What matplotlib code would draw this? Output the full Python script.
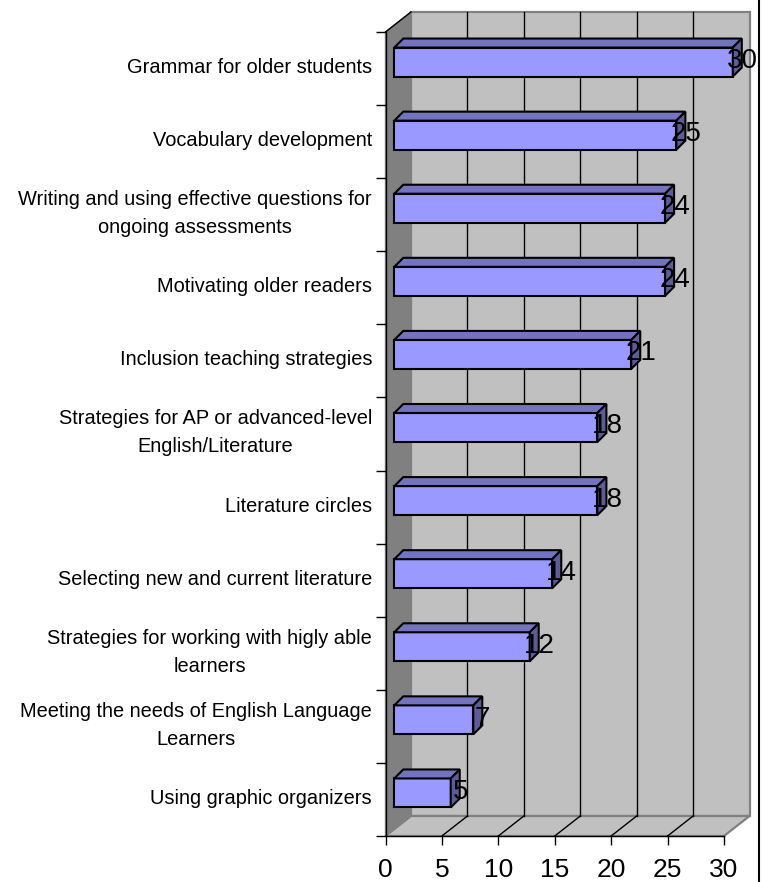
import matplotlib
matplotlib.use('Agg')
import matplotlib.pyplot as plt
from matplotlib.lines import Line2D

plt.rcParams['font.family'] = ['Liberation Sans', 'DejaVu Sans']

categories = [
    "Grammar for older students",
    "Vocabulary development",
    "Writing and using effective questions for\nongoing assessments",
    "Motivating older readers",
    "Inclusion teaching strategies",
    "Strategies for AP or advanced-level\nEnglish/Literature",
    "Literature circles",
    "Selecting new and current literature",
    "Strategies for working with higly able\nlearners",
    "Meeting the needs of English Language\nLearners",
    "Using graphic organizers",
]
values = [30, 25, 24, 24, 21, 18, 18, 14, 12, 7, 5]
xticks = [0, 5, 10, 15, 20, 25, 30]

W, H = 762, 882
PX = 338.5 / 30      # pixels per unit on x
PY = 804 / 11        # pixels per category

# depth of the 3d box and of the bars, in data units
wall_dx = 25.5 / PX
wall_dy = 20 / PY
bar_dx = 9 / PX
bar_dy = 9 / PY
bar_left = 8.8 / PX
bar_shift = -6.5 / PY
bar_h = 29 / PY

face = '#9999FF'
top = '#7373BF'
side = '#5C5C99'
wall = '#C0C0C0'
dark = '#808080'

fig = plt.figure(figsize=(W / 100, H / 100), dpi=100)
ax = fig.add_axes([385.5 / W, (H - 836) / H, 338.5 / W, 804 / H])
ax.set_xlim(0, 30)
ax.set_ylim(10.5, -0.5)
ax.patch.set_visible(False)

y0, y1 = -0.5, 10.5
xmax = xticks[-1]

# back wall
ax.fill([wall_dx, xmax + wall_dx, xmax + wall_dx, wall_dx],
        [y0 - wall_dy, y0 - wall_dy, y1 - wall_dy, y1 - wall_dy],
        facecolor=wall, edgecolor=dark, lw=1.6, clip_on=False, zorder=1)
# floor
ax.fill([0, xmax, xmax + wall_dx, wall_dx],
        [y1, y1, y1 - wall_dy, y1 - wall_dy],
        facecolor=wall, edgecolor=dark, lw=1.6, clip_on=False, zorder=1)
# left wall
ax.fill([0, wall_dx, wall_dx, 0],
        [y0, y0 - wall_dy, y1 - wall_dy, y1],
        facecolor=dark, edgecolor=dark, lw=1, clip_on=False, zorder=1.5)
ax.plot([0, wall_dx], [y0, y0 - wall_dy], color='black', lw=1, clip_on=False, zorder=2)

# gridlines on wall and floor
for t in xticks[1:-1]:
    ax.plot([t + wall_dx, t + wall_dx], [y0 - wall_dy, y1 - wall_dy],
            color='black', lw=1, clip_on=False, zorder=2)
    ax.plot([t, t + wall_dx], [y1, y1 - wall_dy], color='black', lw=1, clip_on=False, zorder=2)

# bars
ypos = [i + bar_shift for i in range(len(values))]
bars = ax.barh(ypos, values, height=bar_h, left=bar_left, color=face, edgecolor='black',
               linewidth=1.5, zorder=3)
for b in bars:
    b.set_clip_on(False)
for y, v in zip(ypos, values):
    xl = bar_left
    xr = bar_left + v
    yt = y - bar_h / 2
    yb = y + bar_h / 2
    ax.fill([xl, xr, xr + bar_dx, xl + bar_dx], [yt, yt, yt - bar_dy, yt - bar_dy],
            facecolor=top, edgecolor='black', lw=1.5, clip_on=False, zorder=3)
    ax.fill([xr, xr + bar_dx, xr + bar_dx, xr], [yt, yt - bar_dy, yb - bar_dy, yb],
            facecolor=side, edgecolor='black', lw=1.5, clip_on=False, zorder=3)
    ax.text(xr + 9.5 / PX, y - 1 / PY, str(v), ha='center', va='center',
            fontsize=20, color='black', clip_on=False, zorder=4)

# axes
for s in ['top', 'right']:
    ax.spines[s].set_visible(False)
for s in ['left', 'bottom']:
    ax.spines[s].set_color('black')
    ax.spines[s].set_linewidth(1)
    ax.spines[s].set_zorder(2.5)

ax.set_xticks(xticks)
ax.tick_params(axis='x', length=6.5, width=1, labelsize=19, pad=9)
ax.set_yticks([i + 0.5 for i in range(-1, len(values))])
ax.set_yticklabels([])
ax.tick_params(axis='y', length=7, width=1)

for i, name in enumerate(categories):
    ax.text(-13.5 / PX, i - 1 / PY, name, ha='right', va='center', multialignment='center',
            fontsize=14.4, color='black', linespacing=1.6, clip_on=False)

# black border on the right of the picture
fig.add_artist(Line2D([758.5 / W, 758.5 / W], [0, 1], color='black', lw=1.5))

fig.savefig('out.png', dpi=100)
